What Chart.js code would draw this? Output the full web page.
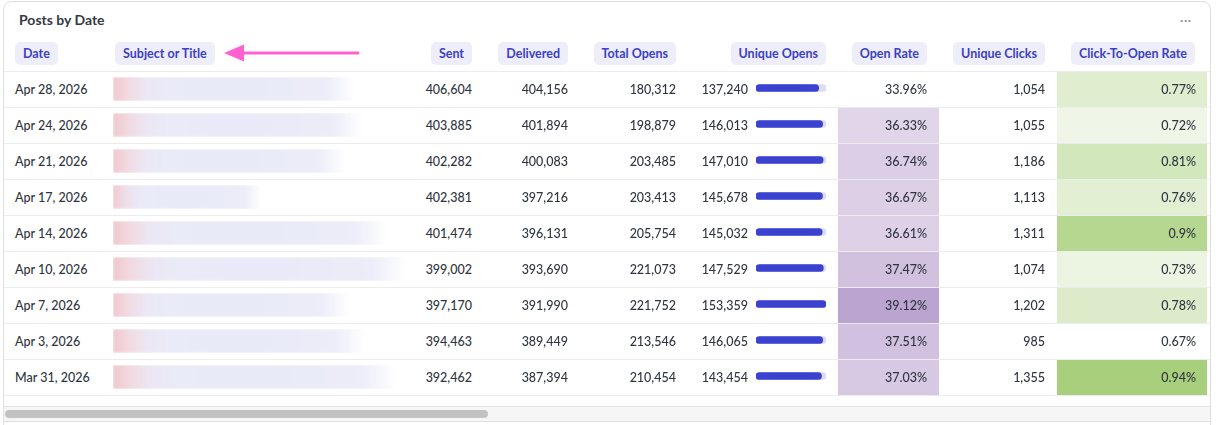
<!DOCTYPE html>
<html>
<head>
<meta charset="utf-8">
<script src="https://cdn.jsdelivr.net/npm/chart.js@4"></script>
<style>
  html, body { margin: 0; padding: 0; background: #fff; }
  body { width: 1216px; height: 425px; overflow: hidden; position: relative; font-family: Lato, "Noto Sans", sans-serif; color: #2f3540; }
  #card { position: absolute; left: 3px; top: 1px; width: 1206px; height: 460px; border: 1px solid #dedede; border-radius: 8px; }
  .title { position: absolute; left: 19px; top: 11px; font-size: 14px; font-weight: 700; color: #343a44; line-height: 18px; }
  .more { position: absolute; left: 1180px; top: 11px; font-size: 13px; color: #8d8d8d; letter-spacing: 0.5px; line-height: 18px; }
  .pill { position: absolute; top: 42px; height: 23px; line-height: 23px; padding: 0 8px; background: #eeeefb; color: #3b40c4; border-radius: 5px; font-size: 12.5px; font-weight: 700; white-space: nowrap; }
  .line { position: absolute; left: 4px; width: 1206px; height: 1px; background: #ececef; z-index: 2; }
  .cell { position: absolute; height: 35px; line-height: 35px; font-size: 12.5px; font-weight: 500; white-space: nowrap; z-index: 3; }
  .blob { position: absolute; height: 24px; z-index: 1; filter: blur(1.2px);
          background: linear-gradient(90deg, #f2c8cd 0, #f1d9e0 6%, #ece6f3 13%, #eaebf8 22%, #e9eaf8 55%, #edeef9 100%);
          -webkit-mask-image: linear-gradient(90deg, #000 88%, transparent); mask-image: linear-gradient(90deg, #000 88%, transparent); }
  canvas { position: absolute; z-index: 1; }
  #track { position: absolute; left: 4px; top: 406px; width: 1206px; height: 14px; background: #f6f6f6; border-top: 1px solid #e3e3e3; border-bottom: 1px solid #e0e0e0; }
  #thumb { position: absolute; left: 5px; top: 410px; width: 483px; height: 8px; background: #c2c2c2; border-radius: 4px; }
</style>
</head>
<body>
<div id="card"></div>
<div class="title">Posts by Date</div>
<div class="more">···</div>
<svg style="position:absolute;left:0;top:0;z-index:4" width="400" height="80">
  <line x1="240" y1="53" x2="358" y2="53" stroke="#ff5fcf" stroke-width="3" stroke-linecap="round"/>
  <polygon points="224,53 244,44.5 244,61.5" fill="#ff5fcf"/>
</svg>
<div id="track"></div>
<div id="thumb"></div>

<script>
const DATES = ["Apr 28, 2026", "Apr 24, 2026", "Apr 21, 2026", "Apr 17, 2026", "Apr 14, 2026",
  "Apr 10, 2026", "Apr 7, 2026", "Apr 3, 2026", "Mar 31, 2026"];
const SENT = [406604, 403885, 402282, 402381, 401474, 399002, 397170, 394463, 392462];
const DELIVERED = [404156, 401894, 400083, 397216, 396131, 393690, 391990, 389449, 387394];
const TOTAL_OPENS = [180312, 198879, 203485, 203413, 205754, 221073, 221752, 213546, 210454];
const UNIQUE_OPENS = [137240, 146013, 147010, 145678, 145032, 147529, 153359, 146065, 143454];
const OPEN_RATE = [33.96, 36.33, 36.74, 36.67, 36.61, 37.47, 39.12, 37.51, 37.03];
const UNIQUE_CLICKS = [1054, 1055, 1186, 1113, 1311, 1074, 1202, 985, 1355];
const CTOR = [0.77, 0.72, 0.81, 0.76, 0.9, 0.73, 0.78, 0.67, 0.94];
const HEADERS = ["Date", "Subject or Title", "Sent", "Delivered", "Total Opens",
  "Unique Opens", "Open Rate", "Unique Clicks", "Click-To-Open Rate"];

// subject text is redacted in the source, only the blur widths are kept
const REDACT_RIGHT = [355, 363, 346, 262, 387, 407, 350, 365, 396];

const ROW_TOP = 72, ROW_H = 36, PAGE_W = 1216;
const fmt = n => n.toLocaleString("en-US");

// header pills: [left-aligned x] or [right edge]
const pillPos = [
  { left: 15 }, { left: 115 }, { right: 472 }, { right: 568 }, { right: 676 },
  { right: 826 }, { right: 927 }, { right: 1045 }, { right: 1195 }
];

function place(el, pos) {
  if (pos.left != null) el.style.left = pos.left + "px";
  else el.style.right = (PAGE_W - pos.right) + "px";
}

HEADERS.forEach((h, i) => {
  const p = document.createElement("div");
  p.className = "pill";
  p.textContent = h;
  place(p, pillPos[i]);
  document.body.appendChild(p);
});

function addLine(y) {
  const l = document.createElement("div");
  l.className = "line";
  l.style.top = y + "px";
  document.body.appendChild(l);
}
addLine(ROW_TOP - 1);

DATES.forEach((d, i) => {
  const top = ROW_TOP + i * ROW_H;
  const cells = [
    [d, { left: 15 }],
    [fmt(SENT[i]), { right: 472 }],
    [fmt(DELIVERED[i]), { right: 568 }],
    [fmt(TOTAL_OPENS[i]), { right: 676 }],
    [fmt(UNIQUE_OPENS[i]), { right: 748 }],
    [OPEN_RATE[i] + "%", { right: 927 }],
    [fmt(UNIQUE_CLICKS[i]), { right: 1045 }],
    [CTOR[i] + "%", { right: 1196 }]
  ];
  cells.forEach(([txt, pos]) => {
    const c = document.createElement("div");
    c.className = "cell";
    c.style.top = top + "px";
    c.textContent = txt;
    place(c, pos);
    document.body.appendChild(c);
  });
  const b = document.createElement("div");
  b.className = "blob";
  b.style.left = "113px";
  b.style.top = (top + 5) + "px";
  b.style.width = (REDACT_RIGHT[i] - 113) + "px";
  document.body.appendChild(b);
  addLine(top + ROW_H - 1);
});

function makeCanvas(left, top, w, h) {
  const c = document.createElement("canvas");
  c.width = w; c.height = h;
  c.style.left = left + "px";
  c.style.top = top + "px";
  document.body.appendChild(c);
  return c.getContext("2d");
}

const hiddenScales = (xMin, xMax) => ({
  x: { display: false, min: xMin, max: xMax },
  y: { display: false }
});
const baseOpts = {
  indexAxis: "y",
  responsive: false,
  animation: false,
  layout: { padding: 0 },
  plugins: { legend: { display: false }, tooltip: { enabled: false } }
};

// Unique Opens: progress bar per row, scaled 0..max
const maxOpens = Math.max(...UNIQUE_OPENS);
new Chart(makeCanvas(756, ROW_TOP - 2, 70, ROW_H * DATES.length), {
  type: "bar",
  data: {
    labels: DATES,
    datasets: [
      { data: UNIQUE_OPENS, backgroundColor: "#3a42cf", grouped: false,
        barThickness: 7, borderRadius: 4, borderSkipped: false },
      { data: UNIQUE_OPENS.map(() => maxOpens), backgroundColor: "#dcdcf6", grouped: false,
        barThickness: 7, borderRadius: 4, borderSkipped: false }
    ]
  },
  options: { ...baseOpts, scales: hiddenScales(0, maxOpens) }
});

// heat cells: colour runs white (min) -> full colour (max);
// each bar passes the column's smallest value so it fills the cell and is clipped there
function heatColumn(values, rgb, left, width) {
  const lo = Math.min(...values), hi = Math.max(...values);
  const shade = v => {
    const t = (v - lo) / (hi - lo);
    return `rgb(${rgb.map(c => Math.round(255 - t * (255 - c))).join(",")})`;
  };
  new Chart(makeCanvas(left, ROW_TOP, width, ROW_H * values.length), {
    type: "bar",
    data: {
      labels: DATES,
      datasets: [{
        data: values,
        backgroundColor: ctx => shade(ctx.raw),
        barPercentage: 1,
        categoryPercentage: 1,
        clip: 0
      }]
    },
    options: { ...baseOpts, scales: hiddenScales(0, lo) }
  });
}
heatColumn(OPEN_RATE, [188, 164, 208], 838, 101);
heatColumn(CTOR, [168, 208, 124], 1057, 150);
</script>
</body>
</html>
